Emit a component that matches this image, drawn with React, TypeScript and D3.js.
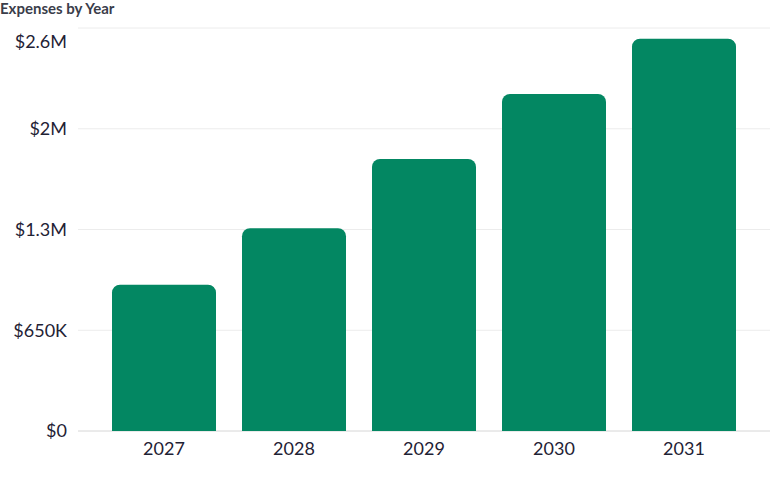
import React from "react";
import * as d3 from "d3";

const years = ["2027", "2028", "2029", "2030", "2031"];
const expenses = [944000, 1308000, 1755000, 2174000, 2531000];
const tickValues = [0, 650000, 1300000, 1950000, 2600000];
const tickLabels = ["$0", "$650K", "$1.3M", "$2M", "$2.6M"];

const W = 770;
const H = 477;
const FONT = "Lato, 'Noto Sans', sans-serif";

export default function App() {
  const x = d3.scaleBand<string>().domain(years).range([86, 762]).paddingInner(0.2).paddingOuter(0.2);
  const y = d3.scaleLinear().domain([0, 2600000]).range([431, 28]);
  const r = 8;
  const bw = x.bandwidth();

  const barPath = (x0: number, y0: number, w: number, h: number) => {
    const p = d3.path();
    p.moveTo(x0, y0 + h);
    p.lineTo(x0, y0 + r);
    p.arcTo(x0, y0, x0 + r, y0, r);
    p.lineTo(x0 + w - r, y0);
    p.arcTo(x0 + w, y0, x0 + w, y0 + r, r);
    p.lineTo(x0 + w, y0 + h);
    p.closePath();
    return p.toString();
  };

  return (
    <svg width={W} height={H} style={{ position: "absolute", left: 0, top: 0, background: "#fff" }}>
      <text x={0} y={14} fontFamily={FONT} fontWeight={700} fontSize={15} fill="#3a3d4a">
        Expenses by Year
      </text>
      {tickValues.map((v, i) => (
        <g key={v}>
          <line x1={78} x2={W} y1={y(v)} y2={y(v)} stroke={v === 0 ? "#d6d6d6" : "#ececec"} strokeWidth={1} />
          <text x={67} y={Math.max(y(v), 42)} dy="0.35em" textAnchor="end" fontFamily={FONT} fontSize={18} fill="#1f2235">
            {tickLabels[i]}
          </text>
        </g>
      ))}
      {years.map((yr, i) => {
        const x0 = x(yr)!;
        const y0 = y(expenses[i]);
        return <path key={yr} d={barPath(x0, y0, bw, y(0) - y0)} fill="#038762" />;
      })}
      {years.map((yr) => (
        <text key={yr} x={x(yr)! + bw / 2} y={455} textAnchor="middle" fontFamily={FONT} fontSize={18} fill="#1f2235">
          {yr}
        </text>
      ))}
    </svg>
  );
}
